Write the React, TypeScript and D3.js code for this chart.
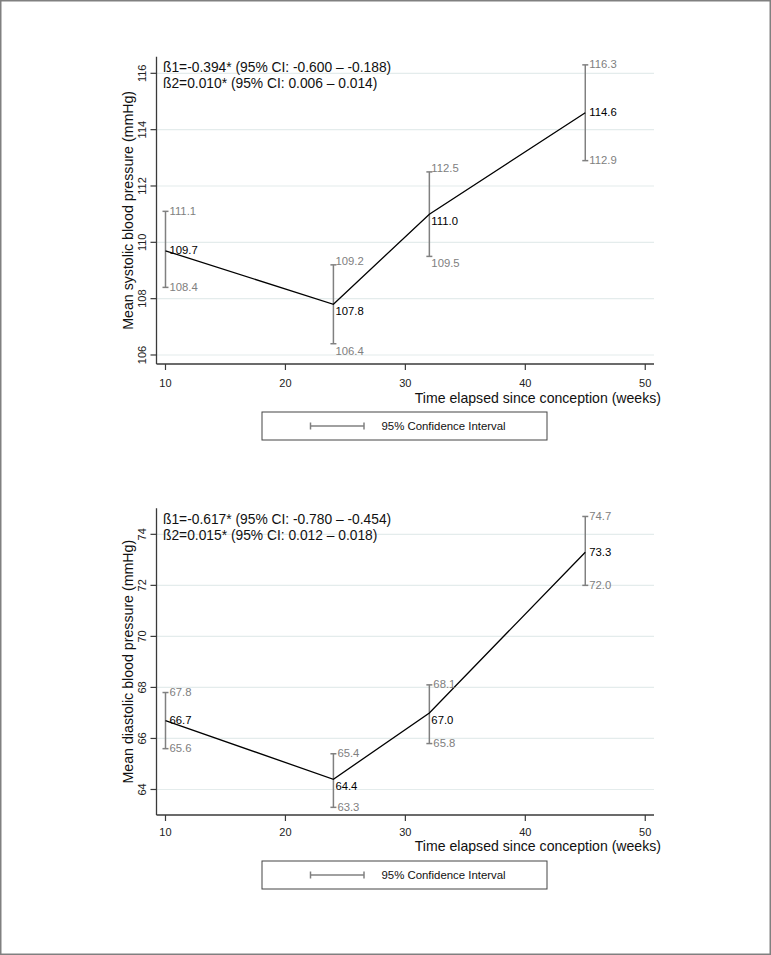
import React, { useEffect } from "react";
import * as d3 from "d3";

// ---- data ----
const weeks = [10, 24, 32, 45];
const sbpMean = [109.7, 107.8, 111.0, 114.6];
const sbpLower = [108.4, 106.4, 109.5, 112.9];
const sbpUpper = [111.1, 109.2, 112.5, 116.3];
const dbpMean = [66.7, 64.4, 67.0, 73.3];
const dbpLower = [65.6, 63.3, 65.8, 72.0];
const dbpUpper = [67.8, 65.4, 68.1, 74.7];
const xTicks = [10, 20, 30, 40, 50];
const sbpTicks = [106, 108, 110, 112, 114, 116];
const dbpTicks = [64, 66, 68, 70, 72, 74];
const sbpNotes = [
  "ß1=-0.394* (95% CI: -0.600 – -0.188)",
  "ß2=0.010* (95% CI: 0.006 – 0.014)",
];
const dbpNotes = [
  "ß1=-0.617* (95% CI: -0.780 – -0.454)",
  "ß2=0.015* (95% CI: 0.012 – 0.018)",
];
const sbpTitle = "Mean systolic blood pressure (mmHg)";
const dbpTitle = "Mean diastolic blood pressure (mmHg)";
const xTitle = "Time elapsed since conception (weeks)";
const legendLabel = "95% Confidence Interval";

// label clock positions (Stata-style mlabposition)
const sbpMeanPos = [3, 4, 4, 3];
const sbpUpperPos = [3, 2, 2, 3];
const sbpLowerPos = [3, 4, 4, 3];
const dbpMeanPos = [3, 4, 4, 3];
const dbpUpperPos = [3, 3, 3, 3];
const dbpLowerPos = [3, 3, 3, 3];

const FONT = "'Liberation Sans', Arial, Helvetica, sans-serif";
const GRAY = "#808080";
const AXIS = "#3a3a3a";
const GRID = "#e4ecec";

const xScale = d3.scaleLinear().domain([9.25, 50.73]).range([156.5, 654]);

function labelOffset(pos: number) {
  if (pos === 2) return { dx: 2, dy: -3.5 };
  if (pos === 4) return { dx: 2, dy: 7 };
  return { dx: 4, dy: -0.5 };
}

type PanelProps = {
  mean: number[];
  lower: number[];
  upper: number[];
  ticks: number[];
  notes: string[];
  title: string;
  yDomain: [number, number];
  yTop: number;
  yBottom: number;
  meanPos: number[];
  upperPos: number[];
  lowerPos: number[];
  tickLabelDy: number;
  titleDy: number;
  legendDy: number;
};

function Panel(p: PanelProps) {
  const y = d3.scaleLinear().domain(p.yDomain).range([p.yBottom, p.yTop]);
  const [x0, x1] = xScale.range();
  const line = d3
    .line<number>()
    .x((_, i) => xScale(weeks[i]))
    .y((d) => y(d));
  const yMid = (p.yTop + p.yBottom) / 2;
  const legX0 = 262;
  const legX1 = 547;
  const legY = p.yBottom + p.legendDy;
  const legH = 28;
  const capW = 3;
  return (
    <g>
      {/* gridlines */}
      {p.ticks.map((t) => (
        <line key={"g" + t} x1={x0} x2={x1} y1={y(t)} y2={y(t)} stroke={GRID} strokeWidth={1.2} />
      ))}
      {/* y axis */}
      <line x1={x0} x2={x0} y1={p.yTop} y2={p.yBottom} stroke={AXIS} strokeWidth={1.3} />
      {p.ticks.map((t) => (
        <g key={"yt" + t}>
          <line x1={x0 - 6} x2={x0} y1={y(t)} y2={y(t)} stroke={AXIS} strokeWidth={1.2} />
          <text
            transform={`translate(${x0 - 11},${y(t)}) rotate(-90)`}
            textAnchor="middle"
            fontSize={11}
            fontFamily={FONT}
            fill="#222"
          >
            {t}
          </text>
        </g>
      ))}
      <text
        transform={`translate(${133},${yMid}) rotate(-90)`}
        textAnchor="middle"
        fontSize={14.2}
        fontFamily={FONT}
        fill="#111"
      >
        {p.title}
      </text>
      {/* x axis */}
      <line x1={x0} x2={x1} y1={p.yBottom} y2={p.yBottom} stroke={AXIS} strokeWidth={1.3} />
      {xTicks.map((t) => (
        <g key={"xt" + t}>
          <line x1={xScale(t)} x2={xScale(t)} y1={p.yBottom} y2={p.yBottom + 6} stroke={AXIS} strokeWidth={1.2} />
          <text
            x={xScale(t)}
            y={p.yBottom + p.tickLabelDy}
            dy="0.35em"
            textAnchor="middle"
            fontSize={11}
            fontFamily={FONT}
            fill="#222"
          >
            {t}
          </text>
        </g>
      ))}
      <text
        x={661}
        y={p.yBottom + p.titleDy}
        textAnchor="end"
        fontSize={14.1}
        fontFamily={FONT}
        fill="#111"
      >
        {xTitle}
      </text>
      {/* notes */}
      {p.notes.map((n, i) => (
        <text
          key={"n" + i}
          x={163}
          y={p.yTop + 15.5 + i * 15.8}
          fontSize={13.8}
          fontFamily={FONT}
          fill="#111"
        >
          {n}
        </text>
      ))}
      {/* error bars */}
      {weeks.map((w, i) => {
        const cx = xScale(w);
        return (
          <g key={"e" + i} stroke={GRAY} strokeWidth={1.5}>
            <line x1={cx} x2={cx} y1={y(p.lower[i])} y2={y(p.upper[i])} />
            <line x1={cx - capW} x2={cx + capW} y1={y(p.lower[i])} y2={y(p.lower[i])} />
            <line x1={cx - capW} x2={cx + capW} y1={y(p.upper[i])} y2={y(p.upper[i])} />
          </g>
        );
      })}
      {/* mean line */}
      <path d={line(p.mean) || ""} fill="none" stroke="#000" strokeWidth={1.3} />
      {/* labels */}
      {weeks.map((w, i) => {
        const cx = xScale(w);
        const om = labelOffset(p.meanPos[i]);
        const ou = labelOffset(p.upperPos[i]);
        const ol = labelOffset(p.lowerPos[i]);
        return (
          <g key={"l" + i} fontSize={11.3} fontFamily={FONT}>
            <text x={cx + ou.dx} y={y(p.upper[i]) + ou.dy} dy="0.35em" fill={GRAY}>
              {p.upper[i].toFixed(1)}
            </text>
            <text x={cx + ol.dx} y={y(p.lower[i]) + ol.dy} dy="0.35em" fill={GRAY}>
              {p.lower[i].toFixed(1)}
            </text>
            <text x={cx + om.dx} y={y(p.mean[i]) + om.dy} dy="0.35em" fill="#000">
              {p.mean[i].toFixed(1)}
            </text>
          </g>
        );
      })}
      {/* legend */}
      <rect x={legX0} y={legY} width={legX1 - legX0} height={legH} fill="#fff" stroke="#444" strokeWidth={1} />
      <g stroke={GRAY} strokeWidth={1.5}>
        <line x1={310.5} x2={364} y1={legY + legH / 2} y2={legY + legH / 2} />
        <line x1={310.5} x2={310.5} y1={legY + legH / 2 - 3.5} y2={legY + legH / 2 + 3.5} />
        <line x1={364} x2={364} y1={legY + legH / 2 - 3.5} y2={legY + legH / 2 + 3.5} />
      </g>
      <text
        x={381.5}
        y={legY + legH / 2}
        dy="0.35em"
        fontSize={11.4}
        fontFamily={FONT}
        fill="#111"
      >
        {legendLabel}
      </text>
    </g>
  );
}

export default function App() {
  useEffect(() => {
    document.body.style.margin = "0";
  }, []);
  return (
    <svg
      width={771}
      height={955}
      viewBox="0 0 771 955"
      style={{ display: "block", position: "absolute", left: 0, top: 0, background: "#fff" }}
    >
      <rect x={0} y={0} width={771} height={955} fill="#fff" />
      <Panel
        mean={sbpMean}
        lower={sbpLower}
        upper={sbpUpper}
        ticks={sbpTicks}
        notes={sbpNotes}
        title={sbpTitle}
        yDomain={[105.68, 116.59]}
        yTop={56.7}
        yBottom={364}
        meanPos={sbpMeanPos}
        upperPos={sbpUpperPos}
        lowerPos={sbpLowerPos}
        tickLabelDy={19}
        titleDy={39}
        legendDy={48}
      />
      <Panel
        mean={dbpMean}
        lower={dbpLower}
        upper={dbpUpper}
        ticks={dbpTicks}
        notes={dbpNotes}
        title={dbpTitle}
        yDomain={[63, 75.02]}
        yTop={508.3}
        yBottom={815}
        meanPos={dbpMeanPos}
        upperPos={dbpUpperPos}
        lowerPos={dbpLowerPos}
        tickLabelDy={17}
        titleDy={35.5}
        legendDy={46}
      />
      <rect x={0.75} y={0.75} width={769.5} height={953.5} fill="none" stroke={GRAY} strokeWidth={1.5} />
    </svg>
  );
}
